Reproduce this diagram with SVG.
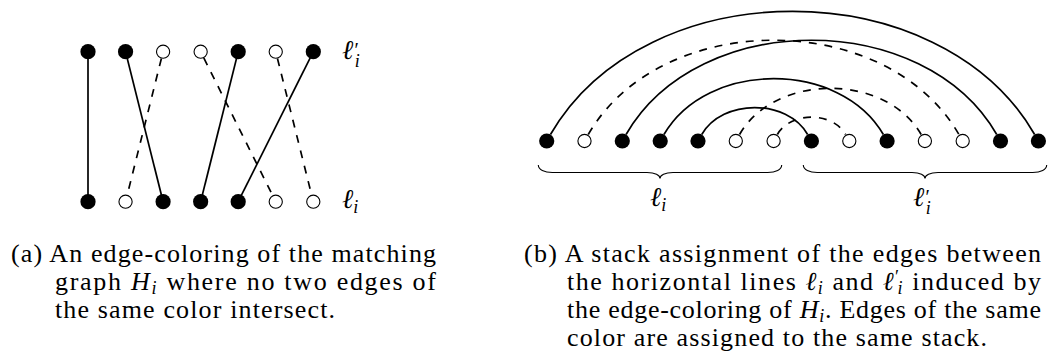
<svg xmlns="http://www.w3.org/2000/svg" width="1062" height="360" viewBox="0 0 1062 360">
<style>
.cap{font-family:'Liberation Serif','DejaVu Serif',serif;font-size:26px;fill:#000}
.lbl{font-family:'Liberation Serif','DejaVu Serif',serif;font-size:27px;font-style:italic;fill:#000}
.it{font-style:italic}
.sub{font-size:18px;font-style:italic}
.solid{fill:none;stroke:#000;stroke-width:1.7}
.dash{fill:none;stroke:#000;stroke-width:1.7;stroke-dasharray:7.9 7.9}
.f{fill:#000}
.o{fill:#fff;stroke:#000;stroke-width:1.1}
.brace{fill:none;stroke:#000;stroke-width:1.1}
</style>
<rect width="1062" height="360" fill="#fff"/>

<!-- (a) matching graph connectors -->
<g id="connectors-a">
  <line class="solid" x1="88" y1="51.7" x2="88" y2="201.7"/>
  <line class="solid" x1="125.55" y1="51.7" x2="163.1" y2="201.7"/>
  <line class="dash" x1="161.4" y1="58.5" x2="127.25" y2="194.9"/>
  <line class="dash" x1="203.8" y1="57.96" x2="272.6" y2="195.4"/>
  <line class="solid" x1="238.2" y1="51.7" x2="200.65" y2="201.7"/>
  <line class="dash" x1="277.45" y1="58.5" x2="311.6" y2="194.9"/>
  <line class="solid" x1="313.3" y1="51.7" x2="238.2" y2="201.7"/>
</g>
<g id="a-top-1"><circle class="f" cx="88" cy="51.7" r="7.6"/></g>
<g id="a-top-2"><circle class="f" cx="125.55" cy="51.7" r="7.6"/></g>
<g id="a-top-3"><circle class="o" cx="163.1" cy="51.7" r="6.6"/></g>
<g id="a-top-4"><circle class="o" cx="200.65" cy="51.7" r="6.6"/></g>
<g id="a-top-5"><circle class="f" cx="238.2" cy="51.7" r="7.6"/></g>
<g id="a-top-6"><circle class="o" cx="275.75" cy="51.7" r="6.6"/></g>
<g id="a-top-7"><circle class="f" cx="313.3" cy="51.7" r="7.6"/></g>
<g id="a-bot-1"><circle class="f" cx="88" cy="201.7" r="7.6"/></g>
<g id="a-bot-2"><circle class="o" cx="125.55" cy="201.7" r="6.6"/></g>
<g id="a-bot-3"><circle class="f" cx="163.1" cy="201.7" r="7.6"/></g>
<g id="a-bot-4"><circle class="f" cx="200.65" cy="201.7" r="7.6"/></g>
<g id="a-bot-5"><circle class="f" cx="238.2" cy="201.7" r="7.6"/></g>
<g id="a-bot-6"><circle class="o" cx="275.75" cy="201.7" r="6.6"/></g>
<g id="a-bot-7"><circle class="o" cx="313.3" cy="201.7" r="6.6"/></g>
<g id="a-label-top"><text class="lbl" x="342" y="59">ℓ<tspan font-size="20" dy="-2">′</tspan><tspan class="sub" dx="-3" dy="10">i</tspan></text></g>
<g id="a-label-bot"><text class="lbl" x="342" y="208">ℓ<tspan class="sub" dy="5">i</tspan></text></g>

<!-- (b) stack layout connectors -->
<g id="connectors-b">
  <path class="solid" d="M550.45,134.5 C645.23,-29.66 939.87,-29.66 1034.65,134.5"/>
  <path class="solid" d="M626.05,134.5 C698.61,8.82 924.19,8.82 996.75,134.5"/>
  <path class="dash" d="M588.25,134.5 C660.81,8.82 886.39,8.82 958.95,134.5"/>
  <path class="solid" d="M663.95,134.5 C706.9,60.11 840.4,60.11 883.35,134.5"/>
  <path class="dash" d="M739.55,134.5 C775.1,72.93 885.6,72.93 921.15,134.5"/>
  <path class="solid" d="M701.75,134.5 C722.48,98.6 786.92,98.6 807.65,134.5"/>
  <path class="dash" d="M777.35,134.5 C790.7,111.38 832.35,111.38 845.55,134.5"/>
</g>
<g id="b-node-1"><circle class="f" cx="546.7" cy="141" r="7.6"/></g>
<g id="b-node-2"><circle class="o" cx="584.5" cy="141" r="6.6"/></g>
<g id="b-node-3"><circle class="f" cx="622.3" cy="141" r="7.6"/></g>
<g id="b-node-4"><circle class="f" cx="660.2" cy="141" r="7.6"/></g>
<g id="b-node-5"><circle class="f" cx="698" cy="141" r="7.6"/></g>
<g id="b-node-6"><circle class="o" cx="735.8" cy="141" r="6.6"/></g>
<g id="b-node-7"><circle class="o" cx="773.6" cy="141" r="6.6"/></g>
<g id="b-node-8"><circle class="f" cx="811.4" cy="141" r="7.6"/></g>
<g id="b-node-9"><circle class="o" cx="849.3" cy="141" r="6.6"/></g>
<g id="b-node-10"><circle class="f" cx="887.1" cy="141" r="7.6"/></g>
<g id="b-node-11"><circle class="o" cx="924.9" cy="141" r="6.6"/></g>
<g id="b-node-12"><circle class="o" cx="962.7" cy="141" r="6.6"/></g>
<g id="b-node-13"><circle class="f" cx="1000.5" cy="141" r="7.6"/></g>
<g id="b-node-14"><circle class="f" cx="1038.4" cy="141" r="7.6"/></g>

<g id="b-brace-left">
  <path class="brace" d="M538.3,165 C538.3,169.5 544.3,172.5 552.3,172.5 L647,172.5 C655,172.5 660,175 660,178.5 C660,175 665,172.5 673,172.5 L767.7,172.5 C775.7,172.5 781.7,169.5 781.7,165"/>
  <text class="lbl" x="650" y="206">ℓ<tspan class="sub" dy="5">i</tspan></text>
</g>
<g id="b-brace-right">
  <path class="brace" d="M803.3,165 C803.3,169.5 809.3,172.5 817.3,172.5 L912,172.5 C920,172.5 925,175 925,178.5 C925,175 930,172.5 938,172.5 L1032.7,172.5 C1040.7,172.5 1046.7,169.5 1046.7,165"/>
  <text class="lbl" x="913" y="206">ℓ<tspan font-size="20" dy="-2">′</tspan><tspan class="sub" dx="-3" dy="10">i</tspan></text>
</g>

<!-- captions -->
<g id="caption-a" class="cap">
  <text x="11" y="262" textLength="425" lengthAdjust="spacing">(a) An edge-coloring of the matching</text>
  <text x="55" y="290" textLength="381" lengthAdjust="spacing">graph <tspan class="it">H</tspan><tspan class="sub" dy="4">i</tspan><tspan dy="-4"> where no two edges of</tspan></text>
  <text x="55" y="318" textLength="280" lengthAdjust="spacing">the same color intersect.</text>
</g>
<g id="caption-b" class="cap">
  <text x="524" y="262" textLength="517" lengthAdjust="spacing">(b) A stack assignment of the edges between</text>
  <text x="567" y="290" textLength="474" lengthAdjust="spacing">the horizontal lines <tspan class="it">ℓ</tspan><tspan class="sub" dy="4">i</tspan><tspan dy="-4"> and </tspan><tspan class="it">ℓ</tspan><tspan font-size="18" dy="-7">′</tspan><tspan class="sub" dx="-3" dy="11">i</tspan><tspan dy="-4"> induced by</tspan></text>
  <text x="567" y="318" textLength="474" lengthAdjust="spacing">the edge-coloring of <tspan class="it">H</tspan><tspan class="sub" dy="4">i</tspan><tspan dy="-4">. Edges of the same</tspan></text>
  <text x="567" y="346" textLength="420" lengthAdjust="spacing">color are assigned to the same stack.</text>
</g>
</svg>
